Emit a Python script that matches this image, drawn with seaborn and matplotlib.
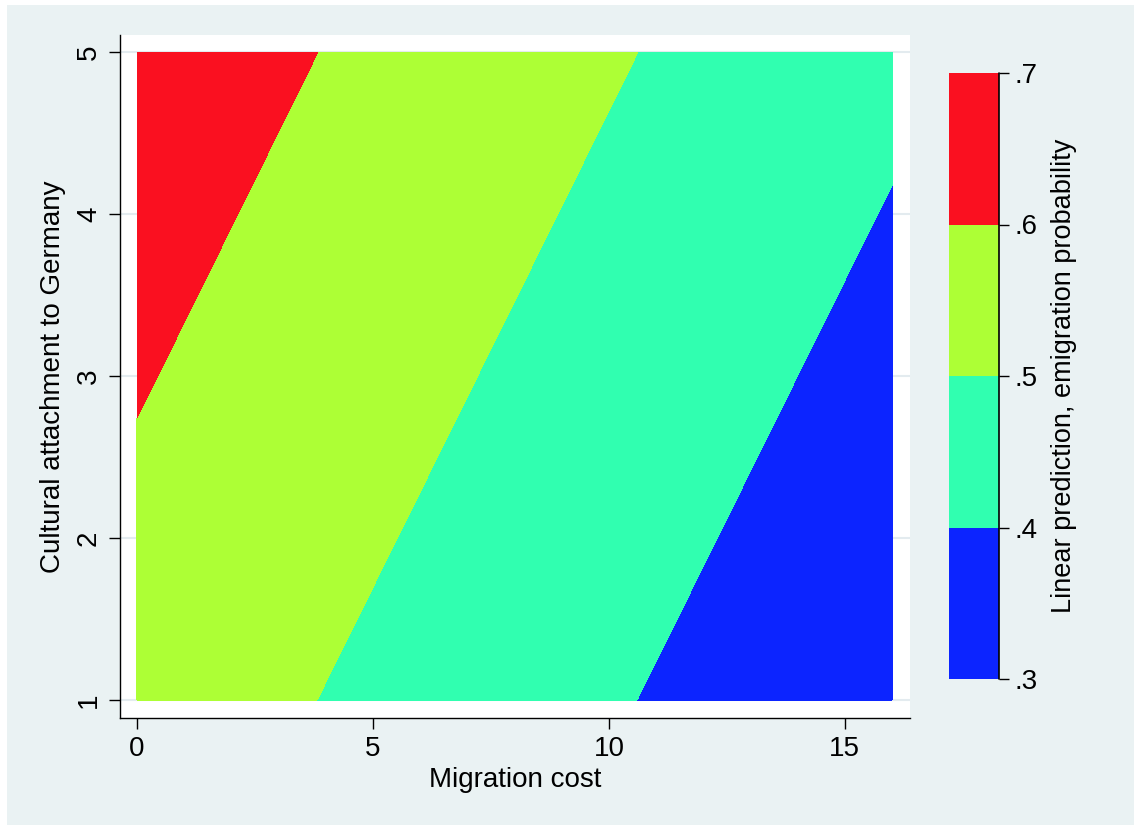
#!/usr/bin/env python3
"""Contour plot of the linear emigration prediction (Stata-like look)."""

import numpy as np
import matplotlib
matplotlib.use("Agg")
import matplotlib.pyplot as plt
from matplotlib.patches import Rectangle
import seaborn as sns

# Data: predicted value at the corners of the grid
migration_cost = [0, 16]
cultural_attachment = [1, 5]
# rows = cultural attachment (1, 5), columns = migration cost (0, 16)
prediction = [[0.5563, 0.3203],
              [0.6566, 0.4206]]
levels = [0.3, 0.4, 0.5, 0.6, 0.7]
level_labels = ['.3', '.4', '.5', '.6', '.7']
band_colors = ['#0C24FF', '#30FFB0', '#ADFF35', '#FA1020']

x_ticks = [0, 5, 10, 15]
y_ticks = [1, 2, 3, 4, 5]

sns.set_style("white")
plt.rcParams['font.family'] = ['Liberation Sans', 'DejaVu Sans']
plt.rcParams['font.size'] = 20
for key in ['text.color', 'axes.labelcolor', 'xtick.color', 'ytick.color',
            'xtick.labelcolor', 'ytick.labelcolor']:
    plt.rcParams[key] = 'black'

W, H = 1134, 825
fig = plt.figure(figsize=(W / 100, H / 100), dpi=100)
fig.patch.set_facecolor('white')
fig.patches.append(Rectangle((7 / W, 0), 1 - 7 / W, 1 - 5 / H,
                             transform=fig.transFigure, facecolor='#EAF2F3',
                             edgecolor='none', zorder=-10))

ax = fig.add_axes([120 / W, 107 / H, 790 / W, 683 / H])
ax.set_facecolor('white')

X, Y = np.meshgrid(migration_cost, cultural_attachment)
Z = np.array(prediction)
cf = ax.contourf(X, Y, Z, levels=levels, colors=band_colors, antialiased=False)

ax.set_xlim(-0.36, 16.38)
ax.set_ylim(0.889, 5.105)
ax.set_xticks(x_ticks)
ax.set_yticks(y_ticks)
ax.set_axisbelow(True)
ax.grid(axis='y', color='#E3EBEF', linewidth=1.5)
ax.grid(axis='x', visible=False)

for side in ['top', 'right']:
    ax.spines[side].set_visible(False)
for side in ['left', 'bottom']:
    ax.spines[side].set_color('black')
    ax.spines[side].set_linewidth(1.0)

ax.tick_params(axis='both', direction='out', length=8, width=1.0,
               color='black', labelcolor='black', labelsize=20, pad=5,
               left=True, bottom=True)
ax.tick_params(axis='y', labelrotation=90)
for lbl in ax.get_yticklabels():
    lbl.set_va('center')

ax.set_xlabel('Migration cost', fontsize=20, color='black')
ax.set_ylabel('Cultural attachment to Germany', fontsize=20, color='black')
ax.xaxis.set_label_coords(0.5, -0.072)
ax.yaxis.set_label_coords(-0.068, 0.5)

# colour bar
cax = fig.add_axes([949 / W, (H - 679) / H, 50 / W, 606 / H])
cbar = fig.colorbar(cf, cax=cax, ticks=levels)
cbar.outline.set_visible(False)
cbar.ax.set_yticklabels(level_labels)
cax.tick_params(axis='y', direction='out', length=7, width=1.0,
                color='black', labelcolor='black', labelsize=20, pad=4,
                right=True)
cax.plot([1, 1], [0, 1], transform=cax.transAxes, color='black',
         linewidth=1.2, clip_on=False)
cax.set_ylabel('Linear prediction, emigration probability', fontsize=19.5,
               color='black')
cax.yaxis.set_label_coords(2.04, 0.5)

fig.savefig('out.png', dpi=100)
plt.close(fig)
